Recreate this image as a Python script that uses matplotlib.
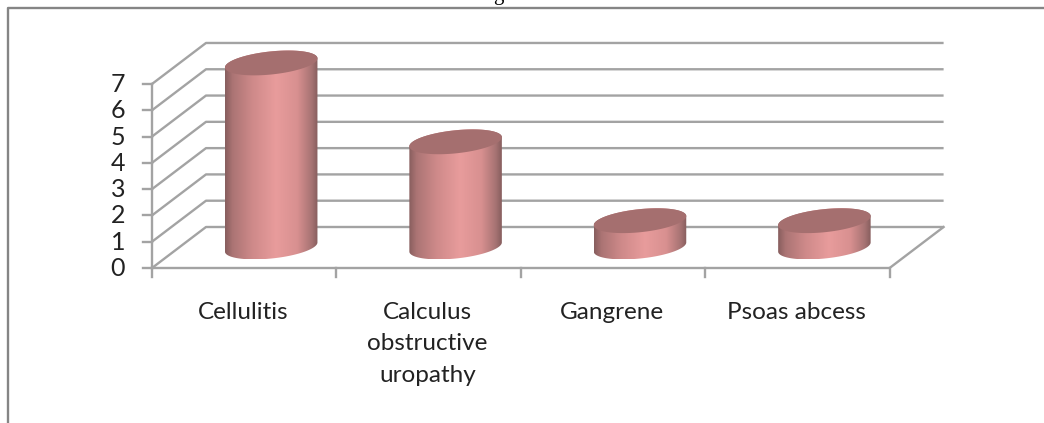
import numpy as np
import matplotlib
matplotlib.use("Agg")
import matplotlib.pyplot as plt
from matplotlib.colors import LinearSegmentedColormap
from matplotlib.patches import PathPatch
from matplotlib.path import Path

categories = ["Cellulitis", "Calculus\nobstructive\nuropathy", "Gangrene", "Psoas abcess"]
values = [7, 4, 1, 1]
yticks = [0, 1, 2, 3, 4, 5, 6, 7]

W, H = 1044, 423
fig = plt.figure(figsize=(W / 100, H / 100), dpi=100, facecolor="white")
ax = fig.add_axes([0, 0, 1, 1])
ax.axis("off")

# one category = 184.4 px, one value unit = 26.29 px
UX, UY = 184.4, 26.29
X0, Y0 = 152, 268
ax.set_xlim(-X0 / UX, (W - X0) / UX)
ax.set_ylim(-(H - Y0) / UY, Y0 / UY)
DX, DY = 54 / UX, 41 / UY      # depth of the 3-D floor
n = len(categories)
grid = "#a3a3a3"
lw = 1.7

for v in yticks:
    ax.plot([0, DX, n + DX], [v, v + DY, v + DY], color=grid, lw=lw, zorder=1,
            solid_capstyle="butt")
    ax.plot([-9 / UX, 0], [v, v], color=grid, lw=lw, zorder=1)
    ax.text(-27 / UX, v - 0.02, str(v), ha="right", va="center", family="Lato",
            fontsize=18, color="#222222")
ax.plot([0, 0], [0, max(yticks)], color=grid, lw=lw, zorder=1)
ax.plot([0, n, n + DX], [0, 0, DY], color=grid, lw=lw, zorder=1)
for i in range(n + 1):
    ax.plot([i, i], [0, -9 / UY], color=grid, lw=lw, zorder=1)

cmap = LinearSegmentedColormap.from_list(
    "cyl", [(0, "#875e5e"), (0.08, "#ab7474"), (0.3, "#cf8a8a"), (0.55, "#e89c9c"),
            (0.78, "#d89090"), (0.93, "#a87474"), (1, "#875e5e")])

t = np.linspace(0, 2 * np.pi, 241)
tilt = np.deg2rad(6)
def ell(cx, cy, tt):
    # ellipse drawn in pixel proportions, converted back to data units
    ex = 46.5 * np.cos(tt); ey = 11.5 * np.sin(tt)
    px = ex * np.cos(tilt) - ey * np.sin(tilt)
    py = ex * np.sin(tilt) + ey * np.cos(tilt)
    return cx + px / UX, cy + py / UY

base_y = 0.80
for i, v in enumerate(values):
    cx = i + 0.5 + 27 / UX
    tx, ty = ell(cx, base_y + v, t)
    lx, ly = ell(cx, base_y, np.linspace(np.pi, 2 * np.pi, 120))
    ux, uy = ell(cx, base_y + v, np.linspace(0, np.pi, 120))
    verts = np.column_stack([np.r_[lx, ux], np.r_[ly, uy]])
    verts = np.vstack([verts, verts[0]])
    codes = [Path.MOVETO] + [Path.LINETO] * (len(verts) - 2) + [Path.CLOSEPOLY]
    clip = PathPatch(Path(verts, codes), transform=ax.transData, fc="none", ec="none")
    ax.add_patch(clip)
    left, right = verts[:, 0].min(), verts[:, 0].max()
    im = ax.imshow(np.linspace(0, 1, 256)[None, :], cmap=cmap, aspect="auto",
                   extent=[left, right, verts[:, 1].min(), verts[:, 1].max()],
                   zorder=3, interpolation="bilinear")
    im.set_clip_path(clip)
    ax.fill(tx, ty, color="#a56f6f", zorder=4, lw=0)
    ax.text(i + 0.495, -1.28, categories[i], ha="center", va="top", family="Lato",
            fontsize=17.5, color="#222222", linespacing=1.62)

ax.set_xlim(-X0 / UX, (W - X0) / UX)
ax.set_ylim(-(H - Y0) / UY, Y0 / UY)

# outer chart frame, in figure pixels
fig.add_artist(plt.Line2D([7.5 / W, 7.5 / W, 1], [0, 1 - 8 / H, 1 - 8 / H],
                          color="#858585", lw=1.7, transform=fig.transFigure))
# clipped remnant of the caption above the chart
fig.text(498 / W, 1 + 5 / H, "g", ha="center", va="center", family="Liberation Serif",
         fontsize=15, color="black")
fig.savefig("out.png", dpi=100)
